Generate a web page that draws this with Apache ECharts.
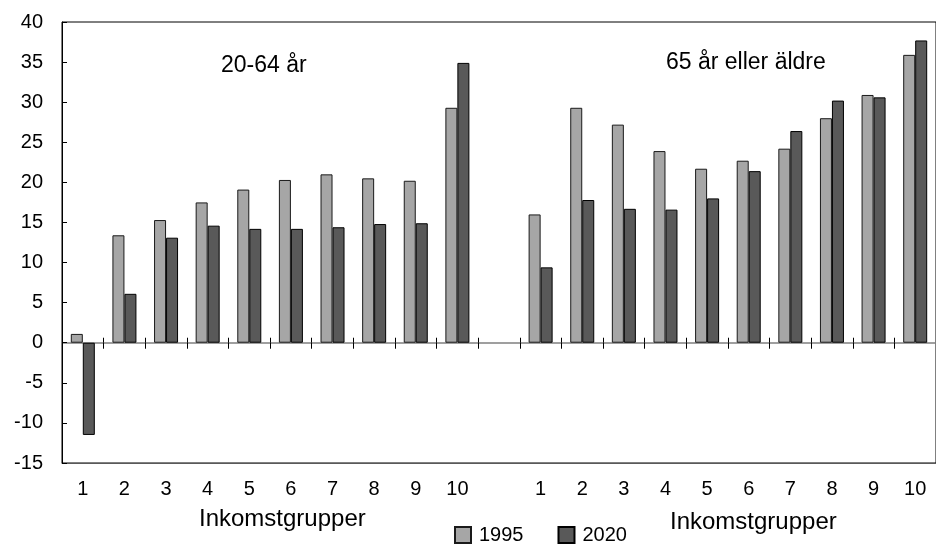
<!DOCTYPE html>
<html>
<head>
<meta charset="utf-8">
<script src="https://cdn.jsdelivr.net/npm/echarts@6/dist/echarts.min.js"></script>
<style>html,body{margin:0;padding:0;background:#fff}#c{width:936px;height:545px}</style>
</head>
<body>
<div id="c"></div>
<script>
var groupLabels = ['1','2','3','4','5','6','7','8','9','10'];
var young1995 = [1.1, 13.4, 15.3, 17.5, 19.1, 20.3, 21.0, 20.5, 20.2, 29.3];
var young2020 = [-11.5, 6.1, 13.1, 14.6, 14.2, 14.2, 14.4, 14.8, 14.9, 34.9];
var old1995 = [16.0, 29.3, 27.2, 23.9, 21.7, 22.7, 24.2, 28.0, 30.9, 35.9];
var old2020 = [9.4, 17.8, 16.7, 16.6, 18.0, 21.4, 26.4, 30.2, 30.6, 37.7];
var seriesNames = ['1995', '2020'];
var groupTitles = ['20-64 år', '65 år eller äldre'];
var axisTitle = 'Inkomstgrupper';
var yTicks = {min: -15, max: 40, interval: 5};

var categories = groupLabels.concat(['']).concat(groupLabels);
var s1995 = young1995.concat([null]).concat(old1995);
var s2020 = young2020.concat([null]).concat(old2020);

var FONT = 'Liberation Sans, Arial, sans-serif';
var chart = echarts.init(document.getElementById('c'), null, {renderer: 'canvas'});
var common = {type: 'category', data: categories, boundaryGap: true};
var gridBox = {left: 62, top: 22, width: 884, height: 441};
chart.setOption({
  animation: false,
  backgroundColor: '#fff',
  grid: [
    Object.assign({show: true, borderColor: '#000', borderWidth: 1, backgroundColor: 'transparent', containLabel: false}, gridBox),
    Object.assign({show: false, containLabel: false}, gridBox)
  ],
  legend: {
    data: seriesNames, left: 454, top: 525, padding: 0, itemWidth: 16, itemHeight: 16, itemGap: 34,
    icon: 'rect',
    textStyle: {fontFamily: FONT, fontSize: 20, color: '#000', padding: [0, 0, 0, 3]}
  },
  xAxis: [
    Object.assign({}, common, {
      gridIndex: 0,
      position: 'bottom',
      axisLine: {onZero: false, lineStyle: {color: '#595959', width: 1}},
      axisTick: {show: false},
      axisLabel: {interval: 0, margin: 16, fontFamily: FONT, fontSize: 20, color: '#000'}
    }),
    Object.assign({}, common, {
      gridIndex: 0,
      position: 'top',
      axisLine: {onZero: true, lineStyle: {color: '#808080', width: 1.5}},
      axisTick: {show: true, interval: 0, length: 6, inside: true, lineStyle: {color: '#000'}},
      axisLabel: {show: false}
    }),
    Object.assign({}, common, {
      gridIndex: 1,
      position: 'bottom',
      axisLine: {show: false, onZero: true},
      axisTick: {show: true, interval: 0, length: 5, inside: true, lineStyle: {color: '#000'}},
      axisLabel: {show: false}
    })
  ],
  yAxis: [{
    gridIndex: 0,
    type: 'value', min: yTicks.min, max: yTicks.max, interval: yTicks.interval,
    axisLine: {show: true, onZero: false, lineStyle: {color: '#000'}},
    axisTick: {show: true, inside: true, length: 5, lineStyle: {color: '#000'}},
    splitLine: {show: false},
    axisLabel: {margin: 19, fontFamily: FONT, fontSize: 20, color: '#000'}
  }, {
    gridIndex: 1,
    type: 'value', min: yTicks.min, max: yTicks.max, interval: yTicks.interval,
    axisLine: {show: false}, axisTick: {show: false}, axisLabel: {show: false}, splitLine: {show: false}
  }],
  series: [
    {name: seriesNames[0], type: 'bar', xAxisIndex: 0, yAxisIndex: 0, data: s1995, barWidth: 12, barGap: '0%',
     itemStyle: {color: '#a6a6a6', borderColor: '#1a1a1a', borderWidth: 1}},
    {name: seriesNames[1], type: 'bar', xAxisIndex: 0, yAxisIndex: 0, data: s2020, barWidth: 12, barGap: '0%',
     itemStyle: {color: '#595959', borderColor: '#000', borderWidth: 1}}
  ],
  graphic: [
    {type: 'text', left: 221, top: 54, style: {text: groupTitles[0], font: '23px ' + FONT, fill: '#000'}},
    {type: 'text', left: 666, top: 51, style: {text: groupTitles[1], font: '23px ' + FONT, fill: '#000'}},
    {type: 'text', left: 199, top: 507, style: {text: axisTitle, font: '24px ' + FONT, fill: '#000'}},
    {type: 'text', left: 670, top: 510, style: {text: axisTitle, font: '24px ' + FONT, fill: '#000'}}
  ]
});
</script>
</body>
</html>
